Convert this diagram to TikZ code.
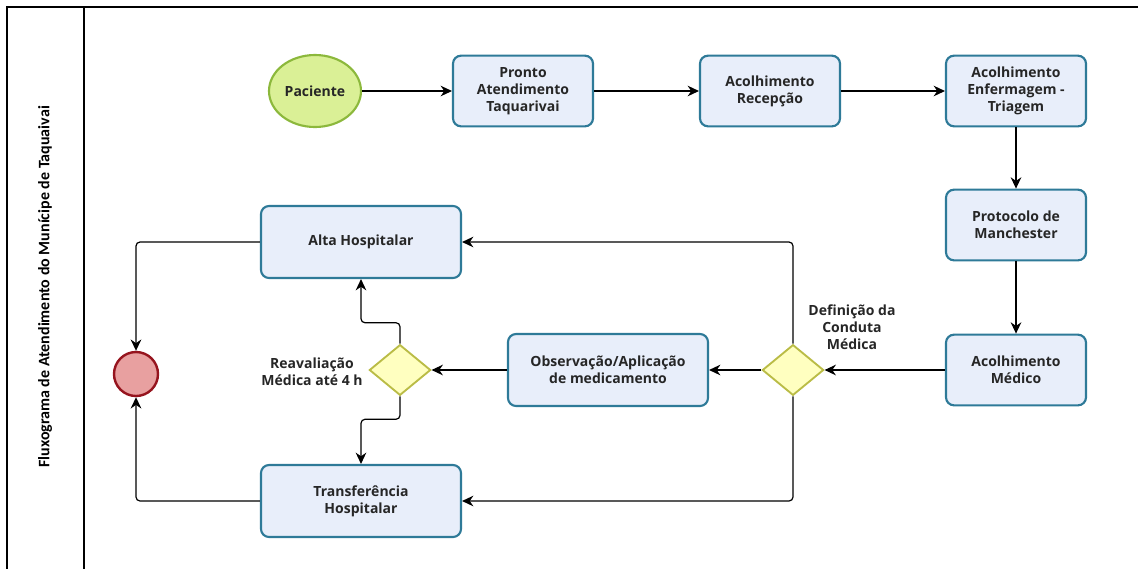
\documentclass[tikz,border=0pt]{standalone}
\usepackage{fontspec}
\setmainfont{Open Sans}
\newfontfamily\titlefont{Carlito}
\usetikzlibrary{shapes.geometric,arrows.meta}
\definecolor{boxfill}{RGB}{232,238,250}
\definecolor{boxline}{RGB}{46,122,152}
\definecolor{decfill}{RGB}{255,255,192}
\definecolor{decline}{RGB}{186,188,70}
\definecolor{startfill}{RGB}{218,240,150}
\definecolor{startline}{RGB}{140,184,60}
\definecolor{endfill}{RGB}{232,160,160}
\definecolor{endline}{RGB}{150,20,30}
\tikzset{
  txt/.style={font=\fontsize{10.5}{12.75}\selectfont\bfseries,text=black!85,align=center},
  etapa/.style={txt,draw=boxline,fill=boxfill,line width=1.6pt,rounded corners=6pt,
    minimum width=105pt,minimum height=53pt,inner sep=0pt},
  etapalarga/.style={etapa,minimum width=150pt,minimum height=54pt},
  decisao/.style={diamond,draw=decline,fill=decfill,line width=1.4pt,
    minimum width=46pt,minimum height=38pt,inner sep=0pt},
  fluxo/.style={line width=0.9pt,rounded corners=3pt,-{Stealth[length=8.5pt,width=8pt]}}
}
\begin{document}
\begin{tikzpicture}[x=0.75pt,y=-0.75pt]
\useasboundingbox (0,0) rectangle (1138,569);
% moldura
\draw[line width=1.2pt] (1138,7) -- (7,7) -- (7,569);
\draw[line width=1.2pt] (84,7) -- (84,569);
\node[rotate=90,font=\titlefont\fontsize{12}{14}\selectfont\bfseries] (titulo) at (45,287)
  {Fluxograma de Atendimento do Munícipe de Taquaivai};
% etapas
\node[txt,ellipse,draw=startline,fill=startfill,line width=1.6pt,minimum width=69pt,
  minimum height=54pt,inner sep=0pt] (paciente) at (315,91) {Paciente};
\node[etapa] (pronto) at (523,91) {Pronto\\Atendimento\\Taquarivai};
\node[etapa] (recepcao) at (770,91) {Acolhimento\\Recepção};
\node[etapa] (triagem) at (1016,91) {Acolhimento\\Enfermagem -\\Triagem};
\node[etapa] (protocolo) at (1016,225) {Protocolo de\\Manchester};
\node[etapa] (medico) at (1016,370) {Acolhimento\\Médico};
\node[decisao] (conduta) at (793,370) {};
\node[etapalarga] (obs) at (608,370) {Observação/Aplicação\\de medicamento};
\node[decisao] (reaval) at (400,370) {};
\node[etapalarga] (alta) at (361,242) {Alta Hospitalar};
\node[etapalarga] (transf) at (361,501) {Transferência\\Hospitalar};
\node[circle,draw=endline,fill=endfill,line width=1.8pt,minimum size=33pt,inner sep=0pt]
  (fim) at (136,374) {};
% rotulos
\node[txt] (rotconduta) at (852,327) {Definição da\\Conduta\\Médica};
\node[txt] (rotreaval) at (312,372) {Reavaliação\\Médica até 4 h};
% conectores
\draw[fluxo] (paciente) -- (pronto);
\draw[fluxo] (pronto) -- (recepcao);
\draw[fluxo] (recepcao) -- (triagem);
\draw[fluxo] (triagem) -- (protocolo);
\draw[fluxo] (protocolo) -- (medico);
\draw[fluxo] (medico) -- (conduta);
\draw[fluxo] (conduta) -- (obs);
\draw[fluxo] (obs) -- (reaval);
\draw[fluxo] (conduta.north) |- (alta.east);
\draw[fluxo] (conduta.south) |- (transf.east);
\draw[fluxo] (reaval.north) -- ++(0,-21) -| (alta.south);
\draw[fluxo] (reaval.south) -- ++(0,23) -| (transf.north);
\draw[fluxo] (alta.west) -| (fim.north);
\draw[fluxo] (transf.west) -| (fim.south);
\end{tikzpicture}
\end{document}
